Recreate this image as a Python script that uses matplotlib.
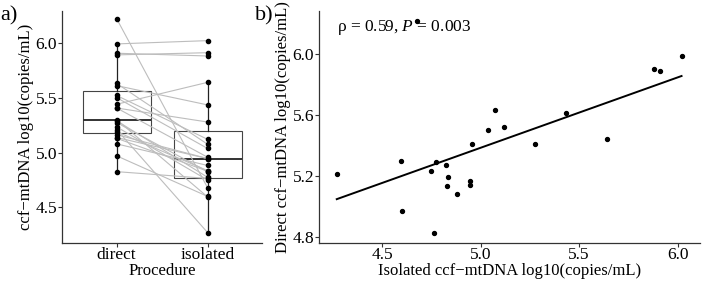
import matplotlib.pyplot as plt
import numpy as np

# paired values, log10(copies/mL)
direct = [6.22, 5.99, 5.905, 5.89, 5.63, 5.61, 5.52, 5.50, 5.44, 5.406, 5.406, 5.30,
          5.29, 5.273, 5.234, 5.21, 5.19, 5.163, 5.137, 5.13, 5.079, 4.97, 4.826]
isolated = [4.678, 6.02, 5.88, 5.91, 5.075, 5.434, 5.12, 5.037, 5.64, 4.957, 5.278, 4.595,
            4.774, 4.826, 4.749, 4.27, 4.835, 4.945, 4.945, 4.83, 4.882, 4.60, 4.764]
groups = ['direct', 'isolated']
stat_text = r'ρ = 0.59, $P$ = 0.003'

plt.rcParams['font.family'] = ['Liberation Serif', 'DejaVu Serif']
plt.rcParams['mathtext.fontset'] = 'custom'
plt.rcParams['mathtext.rm'] = 'Liberation Serif'
plt.rcParams['mathtext.it'] = 'Liberation Serif:italic'

fs = 12.5
lfs = 12
fig = plt.figure(figsize=(7.05, 2.82), dpi=100)
ax1 = fig.add_axes([0.088, 0.14, 0.284, 0.821])
ax2 = fig.add_axes([0.4525, 0.14, 0.5405, 0.821])

def style(ax):
    for s in ['top', 'right']:
        ax.spines[s].set_visible(False)
    for s in ['left', 'bottom']:
        ax.spines[s].set_color('#333333')
        ax.spines[s].set_linewidth(0.9)
    ax.tick_params(labelsize=fs, color='#333333', length=3, width=0.8, pad=0.5)

# a) boxplot with paired lines
style(ax1)
ax1.boxplot([direct, isolated], positions=[1, 2], widths=0.75, showfliers=False,
            patch_artist=True, zorder=1,
            boxprops=dict(facecolor='white', edgecolor='#444444', linewidth=0.8),
            medianprops=dict(color='#333333', linewidth=1.4),
            whiskerprops=dict(color='#222222', linewidth=0.9),
            capprops=dict(linewidth=0))
for d, i in zip(direct, isolated):
    ax1.plot([1, 2], [d, i], color='#bdbdbd', linewidth=0.8, zorder=2)
ax1.scatter(np.ones(len(direct)), direct, s=9, color='black', zorder=3)
ax1.scatter(np.full(len(isolated), 2), isolated, s=9, color='black', zorder=3)
ax1.set_xlim(0.4, 2.6)
ax1.set_ylim(4.18, 6.29)
ax1.set_xticks([1, 2])
ax1.set_xticklabels(groups)
ax1.set_yticks([4.5, 5.0, 5.5, 6.0])
ax1.set_xlabel('Procedure', fontsize=lfs, labelpad=0)
ax1.set_ylabel('ccf\u2212mtDNA log10(copies/mL)', fontsize=lfs, labelpad=1)

# b) scatter with linear fit
style(ax2)
ax2.scatter(isolated, direct, s=8, color='black', zorder=3)
slope, icpt = np.polyfit(isolated, direct, 1)
xs = np.array([min(isolated), max(isolated)])
ax2.plot(xs, slope * xs + icpt, color='black', linewidth=1.4)
ax2.set_xlim(4.18, 6.114)
ax2.set_ylim(4.761, 6.284)
ax2.set_xticks([4.5, 5.0, 5.5, 6.0])
ax2.set_yticks([4.8, 5.2, 5.6, 6.0])
ax2.set_xlabel('Isolated ccf\u2212mtDNA log10(copies/mL)', fontsize=lfs, labelpad=0)
ax2.set_ylabel('Direct ccf\u2212mtDNA log10(copies/mL)', fontsize=lfs, labelpad=1)
ax2.text(0.047, 0.93, stat_text, transform=ax2.transAxes, fontsize=fs, va='center')

fig.text(0.0, 0.945, 'a)', fontsize=16, va='center')
fig.text(0.362, 0.945, 'b)', fontsize=16, va='center')

fig.savefig('out.png', dpi=100)
